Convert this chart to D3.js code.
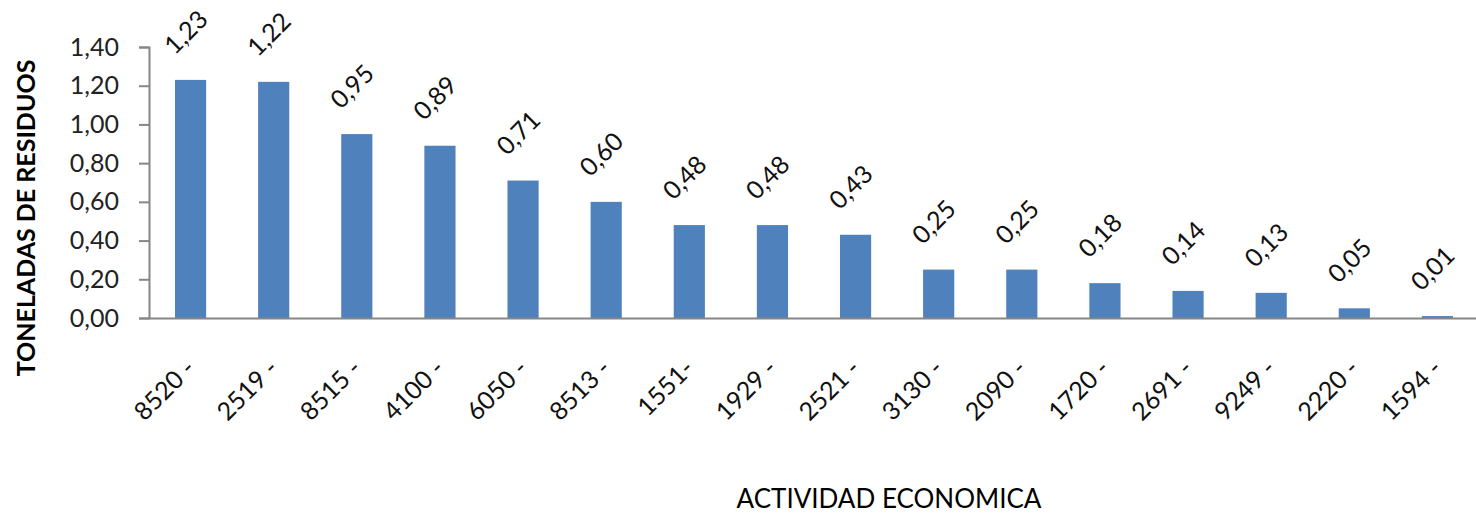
<!DOCTYPE html>
<html>
<head>
<meta charset="utf-8">
<script src="https://cdn.jsdelivr.net/npm/d3@7"></script>
<style>
  body { margin: 0; background: #fff; }
  svg { display: block; }
  text { font-family: Lato, "Open Sans", sans-serif; }
</style>
</head>
<body>
<div id="chart"></div>
<script>
// datos
var actividades = ["8520 -", "2519 -", "8515 -", "4100 -", "6050 -", "8513 -", "1551-", "1929 -",
    "2521 -", "3130 -", "2090 -", "1720 -", "2691 -", "9249 -", "2220 -", "1594 -"];
var toneladas = [1.23, 1.22, 0.95, 0.89, 0.71, 0.60, 0.48, 0.48, 0.43, 0.25, 0.25, 0.18, 0.14, 0.13, 0.05, 0.01];
var yTicks = [0, 0.2, 0.4, 0.6, 0.8, 1.0, 1.2, 1.4];

const width = 1476, height = 514;
const margin = { top: 47, right: -3, bottom: 196, left: 149 };

// formato con coma decimal
const es = d3.formatLocale({ decimal: ",", thousands: ".", grouping: [3], currency: ["", ""] });
const fmt = es.format(".2f");

var svg = d3.select('#chart')
    .append('svg')
    .attr('width', width)
    .attr('height', height);

const x = d3.scaleBand()
    .domain(actividades)
    .range([margin.left, width - margin.right])
    .paddingInner(0.625)
    .paddingOuter(0.3125);

const y = d3.scaleLinear()
    .domain([0, 1.4])
    .range([height - margin.bottom, margin.top]);

// eje y
const yAxis = svg.append('g')
    .attr('transform', `translate(${margin.left},0)`)
    .call(d3.axisLeft(y).tickValues(yTicks).tickFormat(fmt).tickSize(10).tickPadding(20));
yAxis.select('.domain').attr('stroke', '#868686').attr('stroke-width', 2);
yAxis.selectAll('.tick line').attr('stroke', '#868686').attr('stroke-width', 2);
yAxis.selectAll('.tick text')
    .attr('fill', '#222')
    .style('font-size', '25px');

// barras
svg.append('g')
    .attr('fill', '#4F81BD')
    .selectAll('rect')
    .data(toneladas)
    .join('rect')
    .attr('x', (d, i) => x(actividades[i]))
    .attr('y', d => y(d))
    .attr('width', x.bandwidth())
    .attr('height', d => y(0) - y(d));

// eje x
const xAxis = svg.append('g')
    .attr('transform', `translate(0,${y(0)})`)
    .call(d3.axisBottom(x).tickSize(0).tickPadding(0).tickSizeOuter(0));
xAxis.select('.domain').attr('stroke', '#868686').attr('stroke-width', 2);
xAxis.selectAll('.tick text')
    .attr('fill', '#111')
    .style('font-size', '25px')
    .attr('text-anchor', 'end')
    .attr('dy', null)
    .attr('y', null)
    .attr('transform', 'translate(6,52) rotate(-45)');

// etiquetas de valores
svg.append('g')
    .selectAll('text')
    .data(toneladas)
    .join('text')
    .attr('transform', (d, i) => `translate(${x(actividades[i]) + x.bandwidth() / 2 - 3},${y(d) - 46}) rotate(-45)`)
    .attr('text-anchor', 'middle')
    .attr('dominant-baseline', 'middle')
    .attr('fill', '#111')
    .style('font-size', '25px')
    .text(d => fmt(d));

// titulos de ejes
svg.append('text')
    .attr('transform', `translate(35,218) rotate(-90)`)
    .attr('text-anchor', 'middle')
    .style('font-size', '25px')
    .style('font-weight', 'bold')
    .attr('fill', '#000')
    .text('TONELADAS DE RESIDUOS');

svg.append('text')
    .attr('x', 889)
    .attr('y', 508)
    .attr('text-anchor', 'middle')
    .style('font-size', '26px')
    .attr('fill', '#000')
    .text('ACTIVIDAD ECONOMICA');
</script>
</body>
</html>
